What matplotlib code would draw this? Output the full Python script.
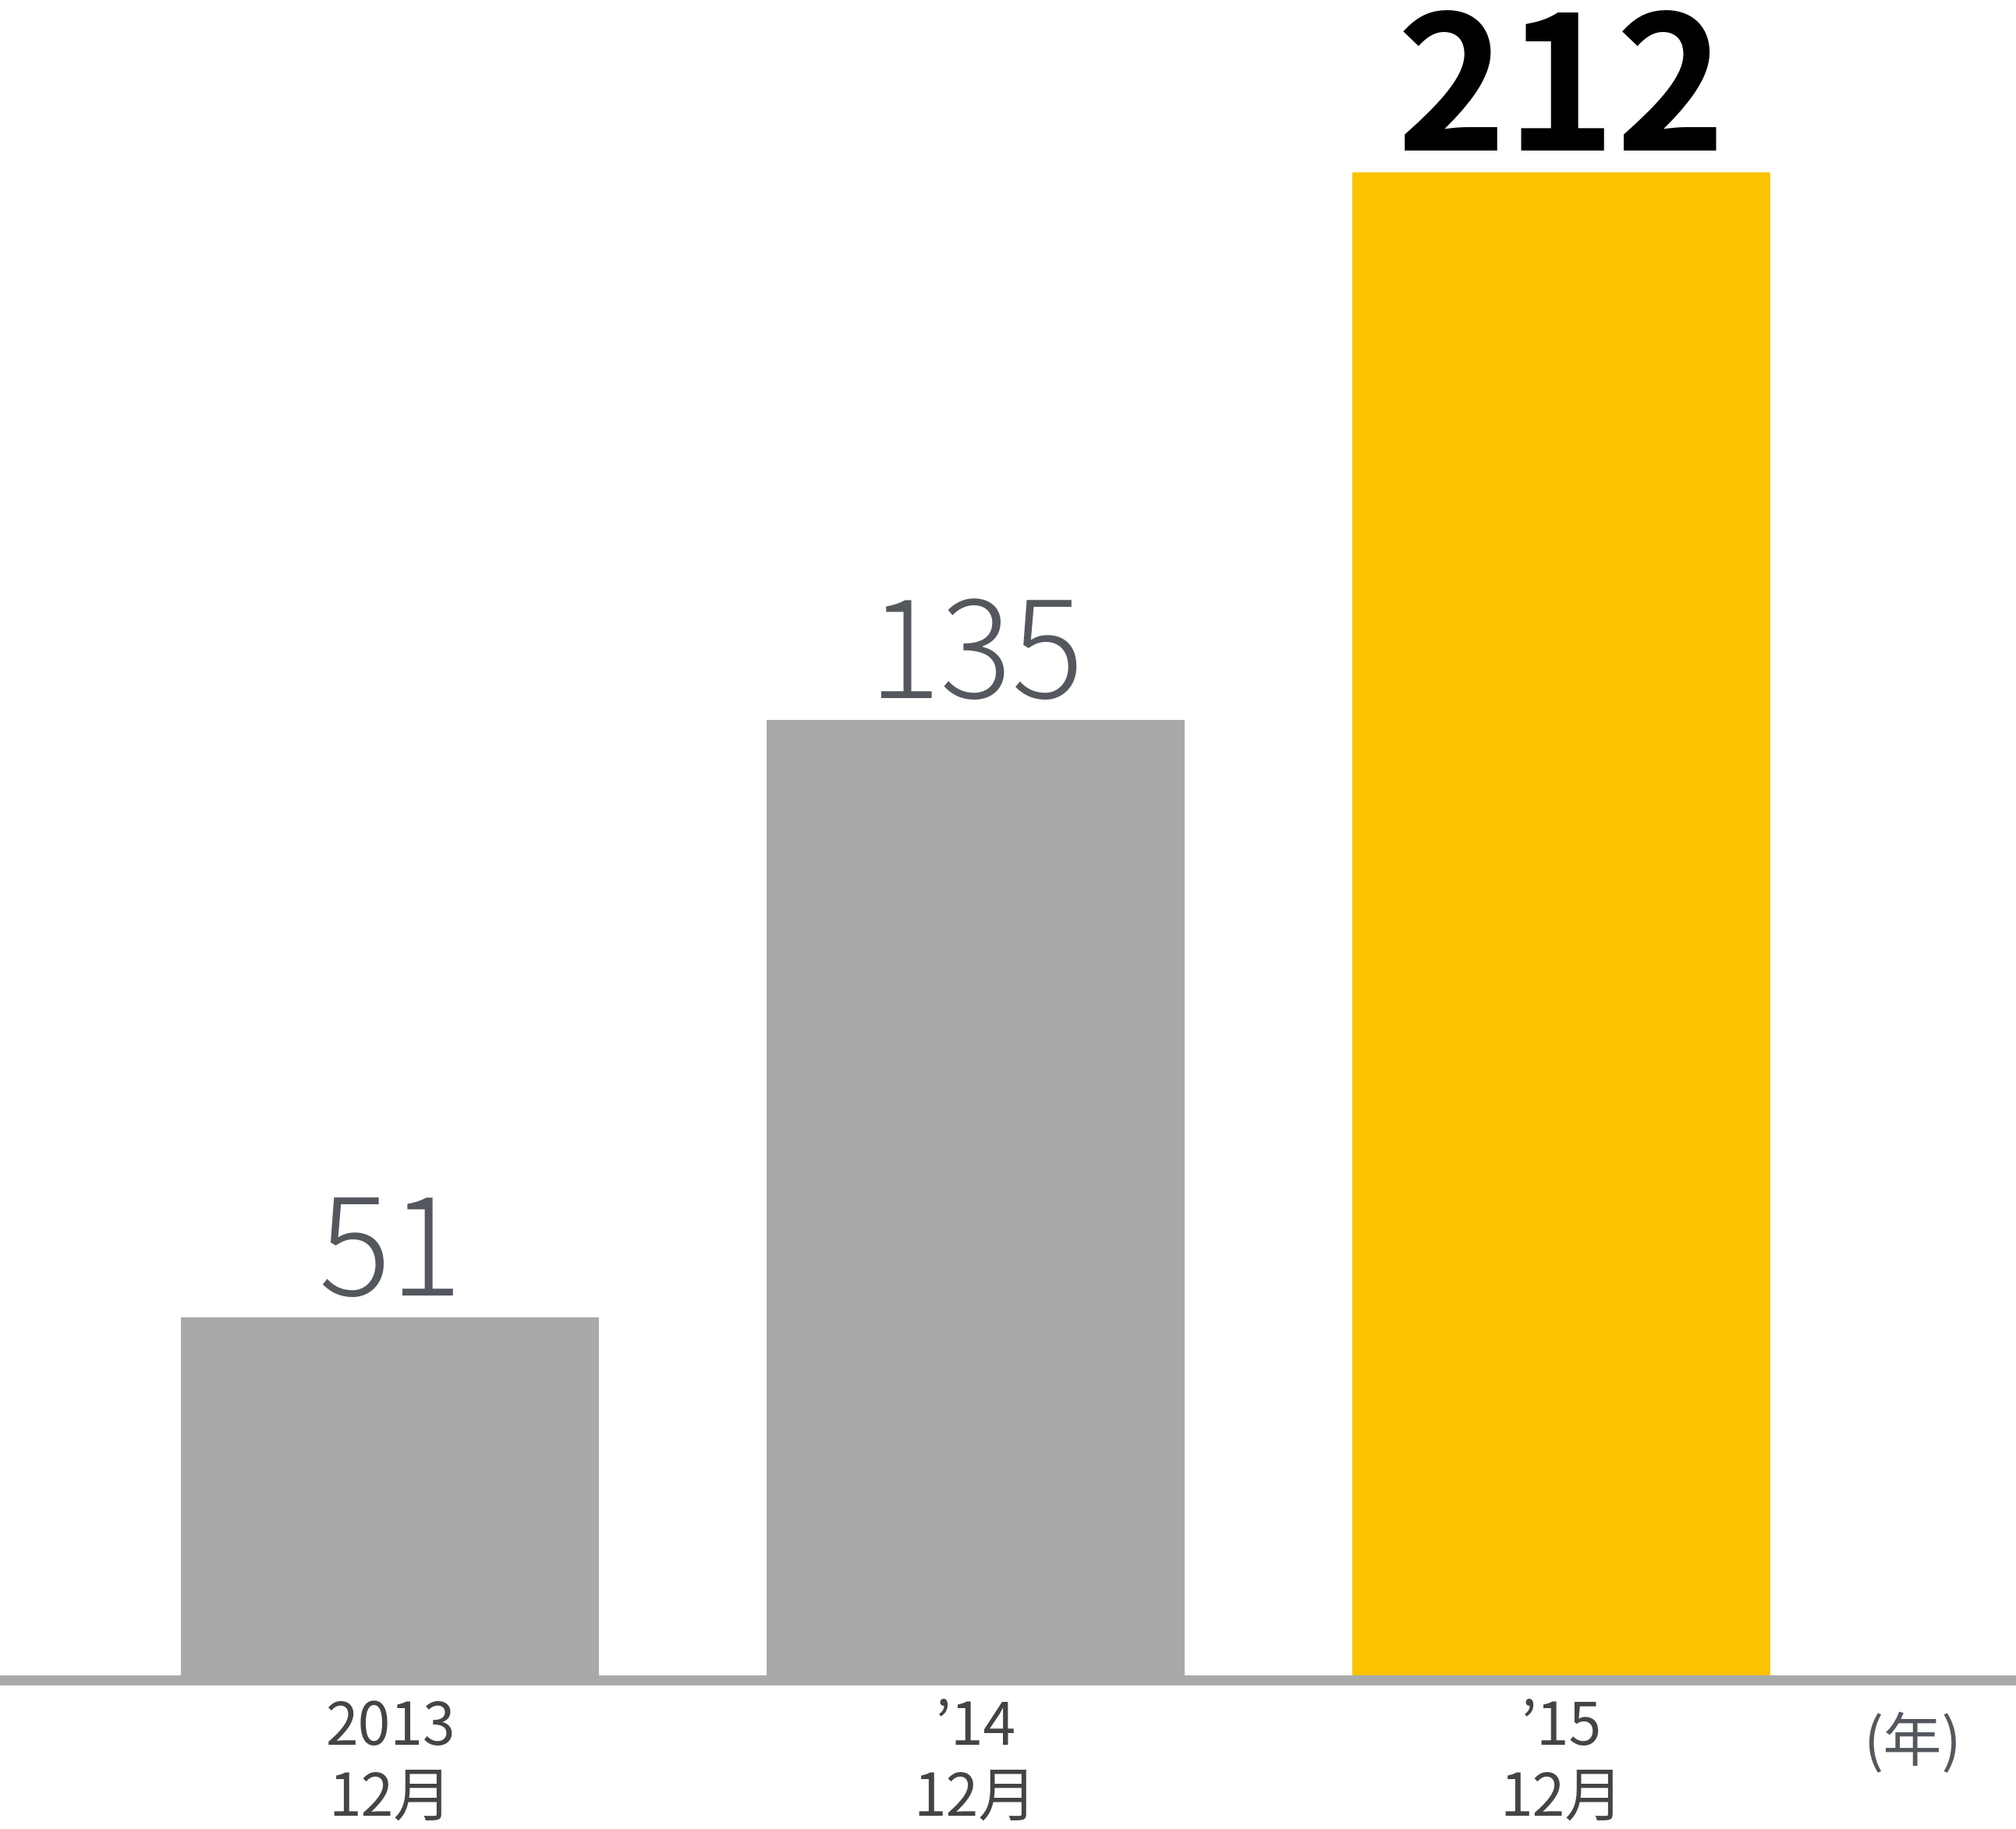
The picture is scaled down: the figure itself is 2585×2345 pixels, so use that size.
import matplotlib
matplotlib.use("Agg")
import matplotlib.pyplot as plt
from matplotlib.transforms import blended_transform_factory

plt.rcParams['font.family'] = ['Noto Sans CJK JP', 'DejaVu Sans']

# data
years = ["2013", "\u201914", "\u201915"]
months = ["12月", "12月", "12月"]
values = [51, 135, 212]
unit_label = "(年)"

GRAY = "#A7AAA9"
YELLOW = "#FBC200"
LABEL_GRAY = "#54585E"
TICK_GRAY = "#444444"

W, H, DPI = 2585, 2345, 100
fig = plt.figure(figsize=(W / DPI, H / DPI), dpi=DPI)

# axes spans the full width, bottom sits on the baseline
base_px = 2153.5
ax = fig.add_axes([0, (H - base_px) / H, 1, base_px / H])
px_per_unit = (base_px - 221) / 212
ax.set_ylim(0, base_px / px_per_unit)
centers_px = [500, 1251, 2001.5]
step = centers_px[1] - centers_px[0]
ax.set_xlim(-centers_px[0] / step, (W - centers_px[0]) / step)
ax.axis("off")

pos = list(range(len(values)))
colors = [GRAY, GRAY, YELLOW]
ax.bar(pos, values, width=536 / step, color=colors, zorder=2)

# baseline
ax.axhline(0, color=GRAY, lw=13 * 72 / DPI, zorder=3, clip_on=False)

# value labels
for i, v in enumerate(values):
    last = i == len(values) - 1
    ax.annotate(str(v), (i, v), xytext=(0, 28 * 72 / DPI), textcoords="offset points",
                ha="center", va="baseline",
                fontsize=172 if last else 124,
                fontweight="bold" if last else "light",
                color="black" if last else LABEL_GRAY)

# category labels under the axis
tr = blended_transform_factory(ax.transData, fig.transFigure)
for i, (y, m) in enumerate(zip(years, months)):
    ax.text(i, (H - 2237) / H, y, transform=tr, ha="center", va="baseline",
            fontsize=54, color=TICK_GRAY)
    ax.text(i, (H - 2328) / H, m, transform=tr, ha="center", va="baseline",
            fontsize=54, color=TICK_GRAY)

fig.text(2452 / W, (H - 2236) / H, unit_label, ha="center", va="center",
         fontsize=54, color=LABEL_GRAY)

fig.savefig("out.png", dpi=DPI, facecolor="white")
